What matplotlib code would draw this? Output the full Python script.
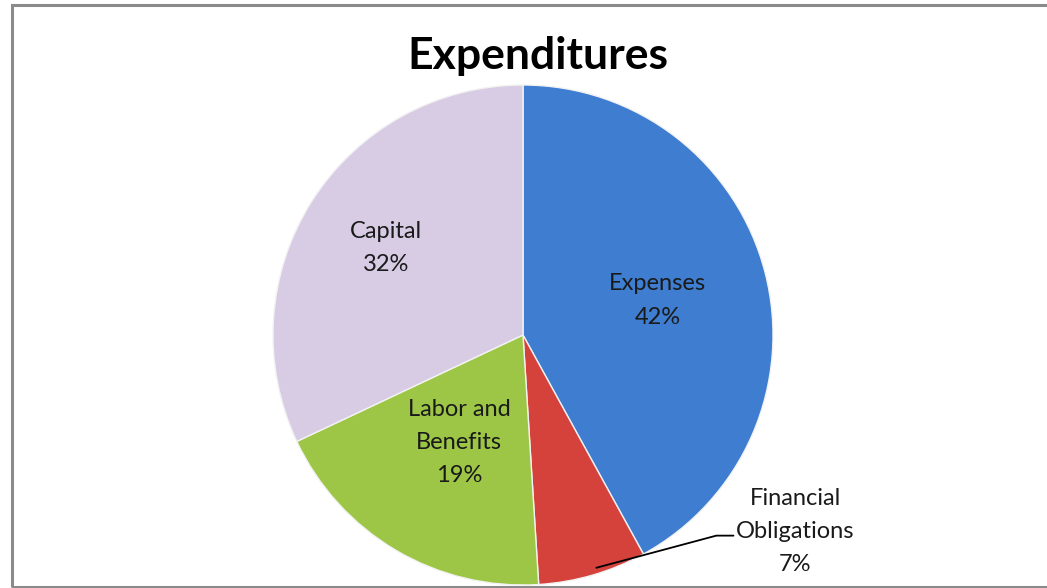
import numpy as np
import matplotlib.pyplot as plt
from matplotlib.patches import Rectangle

categories = ['Expenses', 'Financial\nObligations', 'Labor and\nBenefits', 'Capital']
valores = [42, 7, 19, 32]
colores = ['#3E7DD0', '#D4423B', '#9DC647', '#D8CCE5']

plt.rcParams['font.family'] = ['Lato', 'DejaVu Sans']

fig = plt.figure(figsize=(10.47, 5.88), dpi=100)
fig.patch.set_facecolor('white')

# marco del grafico
fig.add_artist(Rectangle((11.5 / 1047, 0.8 / 588), 1.1, (583.5 - 0.8) / 588,
                         transform=fig.transFigure, fill=False,
                         edgecolor='#8a8a8a', lw=2.2))

ax = fig.add_axes([273 / 1047, 3 / 588, 500 / 1047, 500 / 588])
wedges, _ = ax.pie(valores, colors=colores, startangle=90, counterclock=False,
                   radius=1, wedgeprops=dict(edgecolor='#f2f2f2', linewidth=1))
ax.set_xlim(-1, 1)
ax.set_ylim(-1, 1)
ax.set_aspect('equal')
ax.axis('off')

# distancia de cada etiqueta desde el centro
distancias = [0.555, None, 0.5, 0.65]
for w, cat, v, d in zip(wedges, categories, valores, distancias):
    ang = np.deg2rad((w.theta1 + w.theta2) / 2)
    texto = f'{cat}\n{v}%'
    if d is None:
        # etiqueta fuera del pastel con linea guia
        x0, y0 = 0.98 * np.cos(ang) + 0.02, 0.98 * np.sin(ang) + 0.01
        ax.annotate(texto, xy=(x0, y0), xytext=(1.09, -0.785),
                    ha='center', va='center', fontsize=17, color='#1a1a1a',
                    linespacing=1.72, annotation_clip=False,
                    arrowprops=dict(arrowstyle='-', color='black', lw=1.3,
                                    connectionstyle='angle,angleA=0,angleB=15,rad=0',
                                    shrinkA=0, shrinkB=0,
                                    relpos=(0.0, 0.45)))
    else:
        ax.text(d * np.cos(ang), d * np.sin(ang), texto, ha='center', va='center',
                fontsize=17, color='#1a1a1a', linespacing=1.72)

fig.text(538 / 1047, 1 - 56 / 588, 'Expenditures', ha='center', va='center',
         fontsize=32, fontweight='bold', color='black')

fig.savefig('out.png', dpi=100)
